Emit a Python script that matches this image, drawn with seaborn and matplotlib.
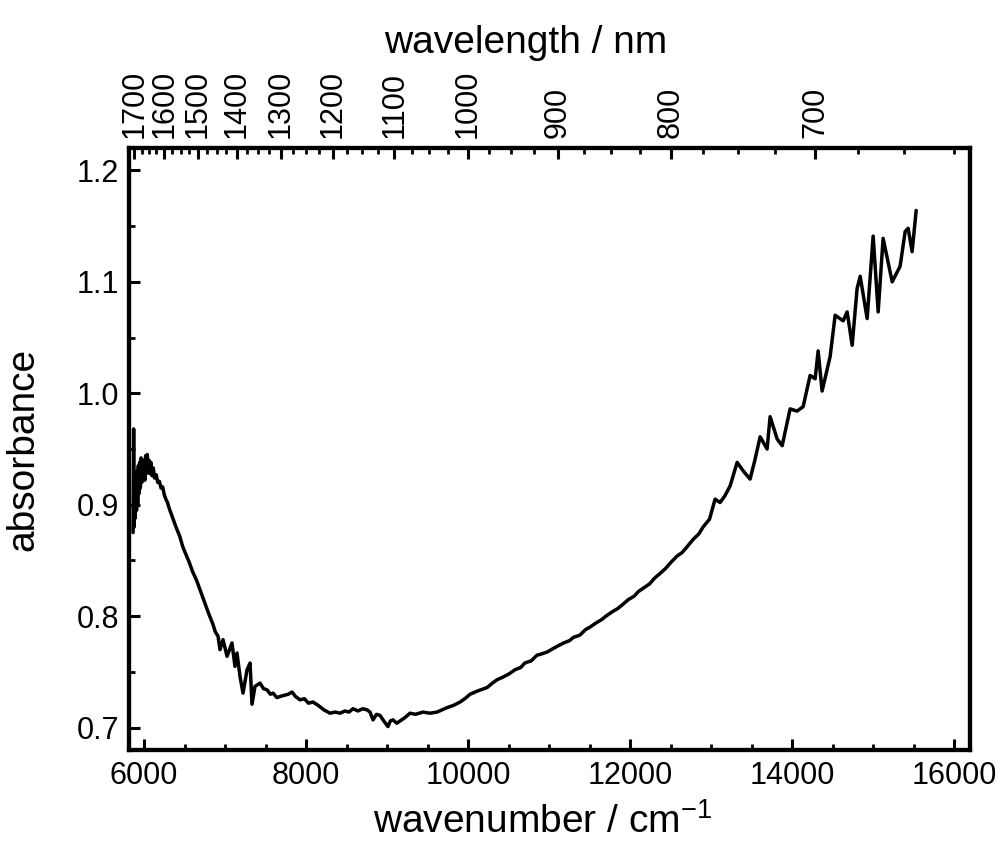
#!/usr/bin/env python3

import numpy as np
import pandas as pd
import matplotlib
matplotlib.use("Agg")
import matplotlib.pyplot as plt
import matplotlib.ticker as mticker
import seaborn as sns

# spectrum (wavenumber in cm-1, absorbance)
wavenumber = [
    5865, 5872, 5878, 5885, 5892, 5900, 5908, 5915, 5922, 5930,
    5938, 5946, 5955, 5963, 5972, 5980, 5990, 6000, 6010, 6020,
    6030, 6040, 6050, 6060, 6070, 6085, 6100, 6115, 6130, 6150,
    6170, 6190, 6210, 6230, 6250, 6270, 6290, 6310, 6340, 6370,
    6400, 6440, 6480, 6520, 6560, 6600, 6650, 6700, 6750, 6800,
    6850, 6880, 6914, 6938, 6975, 7025, 7086, 7123, 7148, 7185,
    7222, 7272, 7309, 7333, 7370, 7432, 7475, 7518, 7560, 7593,
    7640, 7679, 7730, 7780, 7827, 7870, 7926, 7980, 8030, 8086,
    8150, 8220, 8296, 8360, 8420, 8480, 8530, 8580, 8640, 8700,
    8753, 8790, 8827, 8870, 8914, 8960, 9012, 9040, 9074, 9120,
    9160, 9220, 9284, 9350, 9444, 9530, 9617, 9680, 9741, 9820,
    9901, 9960, 10025, 10120, 10235, 10300, 10358, 10420, 10500, 10580,
    10650, 10700, 10780, 10850, 10900, 10980, 11050, 11100, 11180, 11250,
    11300, 11380, 11450, 11500, 11580, 11650, 11700, 11780, 11850, 11900,
    11980, 12050, 12100, 12180, 12240, 12300, 12380, 12440, 12500, 12580,
    12640, 12700, 12780, 12850, 12900, 12980, 13049, 13111, 13170, 13235,
    13321, 13400, 13481, 13540, 13605, 13691, 13728, 13815, 13877, 13975,
    14060, 14136, 14222, 14284, 14321, 14370, 14469, 14531, 14630, 14679,
    14741, 14802, 14840, 14926, 15000, 15062, 15123, 15235, 15333, 15395,
    15432, 15481, 15531,
]
absorbance = [
    0.875, 0.968, 0.880, 0.905, 0.888, 0.925, 0.895, 0.930, 0.900, 0.935,
    0.910, 0.938, 0.915, 0.942, 0.920, 0.936, 0.925, 0.940, 0.922, 0.944,
    0.928, 0.945, 0.930, 0.940, 0.928, 0.938, 0.926, 0.933, 0.924, 0.927,
    0.920, 0.921, 0.915, 0.916, 0.909, 0.905, 0.902, 0.897, 0.891, 0.885,
    0.879, 0.872, 0.862, 0.855, 0.848, 0.840, 0.832, 0.822, 0.812, 0.802,
    0.793, 0.786, 0.782, 0.770, 0.779, 0.764, 0.776, 0.755, 0.767, 0.746,
    0.731, 0.752, 0.758, 0.721, 0.737, 0.740, 0.735, 0.734, 0.730, 0.731,
    0.727, 0.728, 0.729, 0.730, 0.732, 0.728, 0.725, 0.726, 0.722, 0.723,
    0.720, 0.716, 0.713, 0.714, 0.713, 0.715, 0.714, 0.717, 0.715, 0.717,
    0.716, 0.714, 0.707, 0.712, 0.711, 0.706, 0.701, 0.706, 0.707, 0.704,
    0.706, 0.709, 0.713, 0.712, 0.714, 0.713, 0.714, 0.716, 0.718, 0.720,
    0.723, 0.726, 0.730, 0.733, 0.736, 0.740, 0.743, 0.745, 0.748, 0.752,
    0.754, 0.758, 0.760, 0.765, 0.766, 0.768, 0.771, 0.773, 0.776, 0.778,
    0.781, 0.783, 0.788, 0.790, 0.794, 0.797, 0.800, 0.804, 0.807, 0.810,
    0.815, 0.818, 0.822, 0.826, 0.829, 0.834, 0.839, 0.843, 0.848, 0.854,
    0.857, 0.862, 0.869, 0.874, 0.880, 0.887, 0.905, 0.902, 0.908, 0.917,
    0.938, 0.930, 0.923, 0.940, 0.961, 0.950, 0.979, 0.959, 0.953, 0.986,
    0.984, 0.988, 1.016, 1.013, 1.038, 1.002, 1.033, 1.070, 1.065, 1.073,
    1.043, 1.094, 1.105, 1.067, 1.141, 1.073, 1.139, 1.100, 1.114, 1.145,
    1.148, 1.127, 1.164,
]

# top axis ticks (wavelength in nm)
nm_major = [1700, 1600, 1500, 1400, 1300, 1200, 1100, 1000, 900, 800, 700]
nm_minor = list(range(625, 1701, 25))

df = pd.DataFrame({"wavenumber": wavenumber, "absorbance": absorbance})

sns.set_style("ticks")
plt.rcParams["font.family"] = ["Liberation Sans", "DejaVu Sans"]
plt.rcParams["mathtext.fontset"] = "custom"
plt.rcParams["mathtext.rm"] = "Liberation Sans"
plt.rcParams["mathtext.it"] = "Liberation Sans:italic"
for k in ["text.color", "axes.labelcolor", "xtick.color", "ytick.color",
          "axes.edgecolor"]:
    plt.rcParams[k] = "black"

fig = plt.figure(figsize=(10.04, 8.46), dpi=100)
ax = fig.add_axes([0.1285, 0.1135, 0.838, 0.7115])

sns.lineplot(data=df, x="wavenumber", y="absorbance", color="black",
             linewidth=2.5, estimator=None, sort=False, ax=ax)

ax.set_xlim(5815, 16200)
ax.set_ylim(0.68, 1.22)

ax.xaxis.set_major_locator(mticker.MultipleLocator(2000))
ax.xaxis.set_minor_locator(mticker.MultipleLocator(500))
ax.yaxis.set_major_locator(mticker.MultipleLocator(0.1))
ax.yaxis.set_minor_locator(mticker.MultipleLocator(0.05))
ax.yaxis.set_major_formatter(mticker.FormatStrFormatter("%.1f"))

ax.tick_params(axis="both", which="major", direction="in", length=8,
               width=2.2, labelsize=22, color="black", labelcolor="black")
ax.tick_params(axis="both", which="minor", direction="in", length=4.5,
               width=2.0, color="black")
ax.tick_params(axis="x", which="major", pad=8)
ax.tick_params(axis="y", which="major", pad=7)
ax.tick_params(top=False, right=False, which="both")

for s in ax.spines.values():
    s.set_visible(True)
    s.set_linewidth(3.0)
    s.set_color("black")

ax.set_xlabel("wavenumber / cm$^{-1}$", fontsize=28)
ax.set_ylabel("absorbance", fontsize=28)
ax.xaxis.set_label_coords(0.491, -0.088)
ax.yaxis.set_label_coords(-0.104, 0.5)

# top axis in wavelength
top = ax.twiny()
top.set_xlim(ax.get_xlim())
top.set_xticks([1e7 / v for v in nm_major])
top.set_xticklabels([str(v) for v in nm_major], rotation=90)
top.xaxis.set_minor_locator(mticker.FixedLocator([1e7 / v for v in nm_minor]))
top.tick_params(axis="x", which="major", direction="in", length=8,
                width=2.2, labelsize=22, pad=7, color="black")
top.tick_params(axis="x", which="minor", direction="in", length=4.5,
                width=2.0, color="black")
top.tick_params(axis="y", which="both", left=False, right=False,
                labelleft=False, labelright=False)
for s in top.spines.values():
    s.set_linewidth(3.0)
    s.set_color("black")
top.set_xlabel("wavelength / nm", fontsize=28)
top.xaxis.set_label_coords(0.472, 1.158)

fig.savefig("out.png", dpi=100)
